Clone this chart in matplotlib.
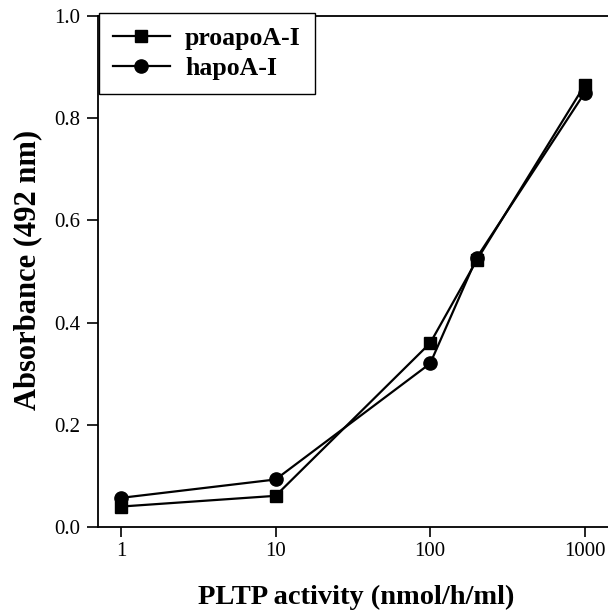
import matplotlib
matplotlib.use("Agg")
import matplotlib.pyplot as plt
from matplotlib.ticker import FixedLocator, FixedFormatter, NullLocator

plt.rcParams['font.family'] = ['Liberation Serif', 'DejaVu Serif']

pltp_activity = [1, 10, 100, 200, 1000]
proapoA_I = [0.040, 0.061, 0.360, 0.522, 0.865]
hapoA_I = [0.057, 0.093, 0.320, 0.527, 0.850]
x_ticks = [1, 10, 100, 1000]
x_tick_labels = ["1", "10", "100", "1000"]
y_ticks = [0.0, 0.2, 0.4, 0.6, 0.8, 1.0]
y_tick_labels = ["0.0", "0.2", "0.4", "0.6", "0.8", "1.0"]

W, H = 608, 611
fig = plt.figure(figsize=(W / 100, H / 100), dpi=100)
left, right, top, bottom = 98, 612, 16, 527
ax = fig.add_axes([left / W, (H - bottom) / H, (right - left) / W, (bottom - top) / H])

ax.plot(pltp_activity, proapoA_I, color='black', lw=1.6, marker='s', ms=8.5,
        label='proapoA-I')
ax.plot(pltp_activity, hapoA_I, color='black', lw=1.6, marker='o', ms=9.5,
        label='hapoA-I')

ax.set_xscale('log')
ax.set_xlim(0.71, 1500)
ax.set_ylim(0, 1.0)
ax.xaxis.set_major_locator(FixedLocator(x_ticks))
ax.xaxis.set_major_formatter(FixedFormatter(x_tick_labels))
ax.xaxis.set_minor_locator(NullLocator())
ax.yaxis.set_major_locator(FixedLocator(y_ticks))
ax.yaxis.set_major_formatter(FixedFormatter(y_tick_labels))

for s in ax.spines.values():
    s.set_linewidth(1.3)
ax.tick_params(axis='both', direction='out', width=1.2, labelsize=15)
ax.tick_params(axis='x', length=7, pad=4)
ax.tick_params(axis='y', length=8, pad=5)

ax.set_xlabel('PLTP activity (nmol/h/ml)', fontsize=20.5, fontweight='bold')
ax.set_ylabel('Absorbance (492 nm)', fontsize=22, fontweight='bold')
# place labels at measured reference centres (in pixels)
ax.xaxis.set_label_coords(356 / W, 14 / H, transform=fig.transFigure)
ax.xaxis.label.set_va('center')
ax.yaxis.set_label_coords(28 / W, (H - 270) / H, transform=fig.transFigure)
ax.yaxis.label.set_va('center')

leg = ax.legend(loc='upper left', bbox_to_anchor=(99 / W, (H - 13) / H),
                bbox_transform=fig.transFigure, fancybox=False, framealpha=1,
                edgecolor='black', prop={'weight': 'bold', 'size': 18.5},
                handlelength=2.2, borderpad=0.55, labelspacing=0.25,
                handletextpad=0.6, borderaxespad=0)
leg.get_frame().set_linewidth(1.0)

fig.savefig('out.png', dpi=100)
